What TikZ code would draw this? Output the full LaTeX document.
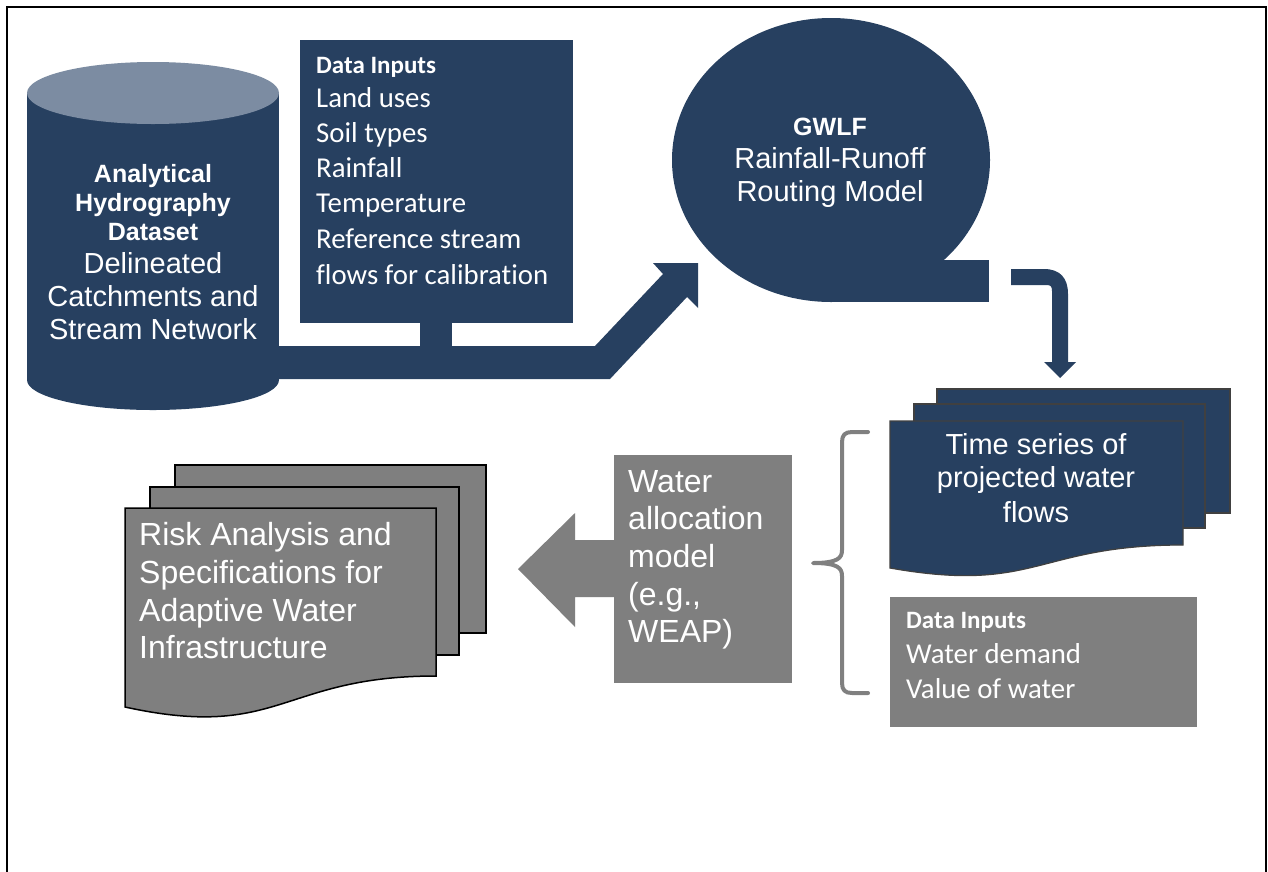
\documentclass[tikz,border=0pt]{standalone}
\usepackage{fontspec}
\setmainfont{Liberation Sans}
\newfontfamily\calfont[Ligatures=NoCommon]{Carlito}
\definecolor{navy}{RGB}{39,64,96}
\definecolor{navytop}{RGB}{124,140,162}
\definecolor{gbox}{RGB}{127,127,127}
\definecolor{brace}{RGB}{128,128,128}
\newcommand\fs[1]{\fontsize{#1}{#1}\selectfont}
\tikzset{
  lblc/.style={text=white, inner sep=0pt, anchor=base},
  lblw/.style={text=white, inner sep=0pt, anchor=base west},
  navydoc/.style={fill=navy, draw=black!75, line width=1.2pt},
  graydoc/.style={fill=gbox, draw=black, line width=1.5pt},
  blockarrow/.style={fill=navy},
}
\begin{document}
\begin{tikzpicture}[x=1pt,y=-1pt]
\useasboundingbox (0,0) rectangle (1268,871);
\fill[white] (0,0) rectangle (1268,871);
% frame
\draw[line width=2.2pt] (7,890) -- (7,7) -- (1266,7) -- (1266,890);

% ---- main bent arrow from cylinder to GWLF
\fill[blockarrow] (250,346) -- (595,346) -- (663,274) -- (653,263) -- (698,263)
  -- (698,308) -- (687,297) -- (610,379) -- (250,379) -- cycle;
% stem from data inputs box
\fill[navy] (420,318) rectangle (452,350);

% ---- cylinder
\fill[navy] (27,93) rectangle (279,380);
\fill[navy] (153,380) ellipse [x radius=126, y radius=30];
\fill[navytop] (153,93) ellipse [x radius=126, y radius=31];
\node[lblc, font=\bfseries\fs{25}] (c1) at (153,182) {Analytical};
\node[lblc, font=\bfseries\fs{25}] (c2) at (153,211) {Hydrography};
\node[lblc, font=\bfseries\fs{25}] (c3) at (153,240) {Dataset};
\node[lblc, font=\fs{29}] (c4) at (153,273) {Delineated};
\node[lblc, font=\fs{29}] (c5) at (153,306) {Catchments and};
\node[lblc, font=\fs{29}] (c6) at (153,339) {Stream Network};

% ---- data inputs box (top)
\fill[navy] (300,40) rectangle (573,323);
\node[lblw, font=\calfont\bfseries\fs{25}] (d0) at (316,73) {Data Inputs};
\node[lblw, font=\calfont\fs{28.8}] (d1) at (316,107) {Land uses};
\node[lblw, font=\calfont\fs{28.8}] (d2) at (316,142) {Soil types};
\node[lblw, font=\calfont\fs{28.8}] (d3) at (316,177) {Rainfall};
\node[lblw, font=\calfont\fs{28.8}] (d4) at (316,212) {Temperature};
\node[lblw, font=\calfont\fs{28.8}] (d5) at (316,248) {Reference stream};
\node[lblw, font=\calfont\fs{28.8}] (d6) at (316,284) {flows for calibration};

% ---- GWLF sequential storage shape
\fill[navy] (831,160) ellipse [x radius=159, y radius=142];
\fill[navy] (831,260) rectangle (989,302);
\node[lblc, font=\bfseries\fs{25}] (g1) at (830,135) {GWLF};
\node[lblc, font=\fs{29}] (g2) at (830,168) {Rainfall-Runoff};
\node[lblc, font=\fs{29}] (g3) at (830,201) {Routing Model};

% ---- bent down arrow
\fill[blockarrow] (1011,269) -- (1044,269) .. controls (1060,269) and (1068,278) .. (1068,294)
  -- (1068,362) -- (1076,362) -- (1060,378) -- (1044,362) -- (1052,362) -- (1052,291)
  .. controls (1052,287) and (1051,285) .. (1047,285) -- (1011,285) -- cycle;

% ---- navy document stack
\filldraw[navydoc] (937,389) rectangle (1230,513);
\filldraw[navydoc] (914,404) rectangle (1205,528);
\filldraw[navydoc] (890,421) -- (1183,421) -- (1183,545)
  .. controls (1036.5,545) and (1036.5,594) .. (890,568) -- cycle;
\node[lblc, font=\fs{29}] (t1) at (1036,454) {Time series of};
\node[lblc, font=\fs{29}] (t2) at (1036,487) {projected water};
\node[lblc, font=\fs{29}] (t3) at (1036,522) {flows};

% ---- brace
\draw[brace, line width=4pt, line cap=round, line join=round]
  (868,432) -- (852,432) .. controls (845,432) and (842,435) .. (842,442) -- (842,550)
  .. controls (842,558) and (838,563) .. (813,563)
  .. controls (838,563) and (842,568) .. (842,576) -- (842,683)
  .. controls (842,690) and (845,693) .. (852,693) -- (868,693);

% ---- gray data inputs box
\fill[gbox] (890,597) rectangle (1197,727);
\node[lblw, font=\calfont\bfseries\fs{25}] (e0) at (906,628) {Data Inputs};
\node[lblw, font=\calfont\fs{28.8}] (e1) at (906,663) {Water demand};
\node[lblw, font=\calfont\fs{28.8}] (e2) at (906,698) {Value of water};

% ---- left gray arrow and water allocation box
\fill[gbox] (630,540) -- (575,540) -- (575,513) -- (518,569) -- (575,627) -- (575,597) -- (630,597) -- cycle;
\fill[gbox] (614,455) rectangle (792,683);
\node[lblw, font=\fs{32}] (w1) at (628,492) {Water};
\node[lblw, font=\fs{32}] (w2) at (628,529) {allocation};
\node[lblw, font=\fs{32}] (w3) at (628,567) {model};
\node[lblw, font=\fs{32}] (w4) at (628,605) {(e.g.,};
\node[lblw, font=\fs{32}] (w5) at (628,642) {WEAP)};

% ---- gray document stack
\filldraw[graydoc] (175,465) rectangle (486,633);
\filldraw[graydoc] (150,487) rectangle (459,655);
\filldraw[graydoc] (125,508) -- (436,508) -- (436,676)
  .. controls (280.5,676) and (280.5,741) .. (125,707) -- cycle;
\node[lblw, font=\fs{32}] (r1) at (139,545) {Risk Analysis and};
\node[lblw, font=\fs{32}] (r2) at (139,583) {Specifications for};
\node[lblw, font=\fs{32}] (r3) at (139,621) {Adaptive Water};
\node[lblw, font=\fs{32}] (r4) at (139,658) {Infrastructure};
\end{tikzpicture}
\end{document}
